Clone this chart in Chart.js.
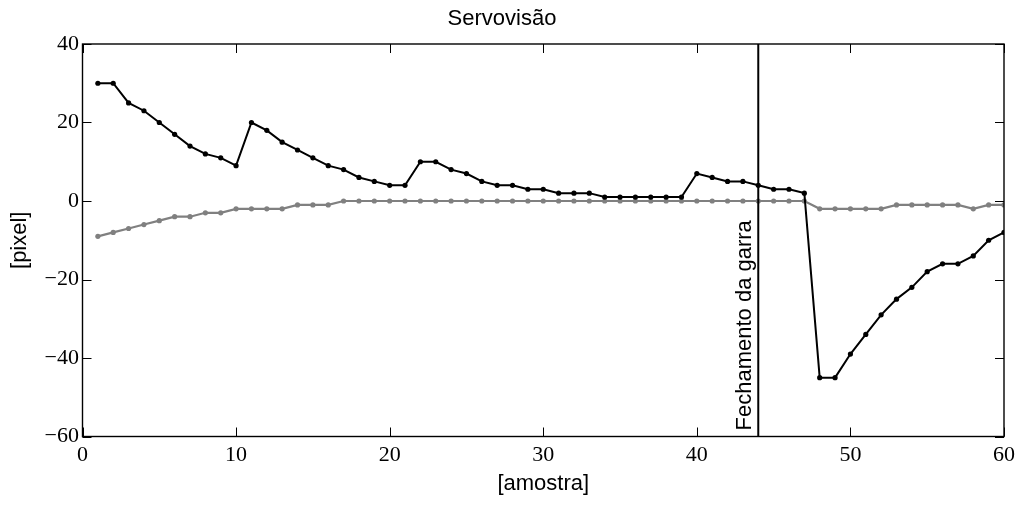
<!DOCTYPE html>
<html>
<head>
<meta charset="utf-8">
<title>Servovisão</title>
<script src="https://cdn.jsdelivr.net/npm/chart.js@4/dist/chart.umd.min.js"></script>
<style>
  html, body { margin: 0; padding: 0; background: #ffffff; }
  #wrap { width: 1017px; height: 508px; }
</style>
</head>
<body>
<div id="wrap"><canvas id="chart" width="1017" height="508"></canvas></div>
<script>
// Sample indices
const amostras = [1, 2, 3, 4, 5, 6, 7, 8, 9, 10,
  11, 12, 13, 14, 15, 16, 17, 18, 19, 20,
  21, 22, 23, 24, 25, 26, 27, 28, 29, 30,
  31, 32, 33, 34, 35, 36, 37, 38, 39, 40,
  41, 42, 43, 44, 45, 46, 47, 48, 49, 50,
  51, 52, 53, 54, 55, 56, 57, 58, 59, 60];

// Image error, first coordinate (black)
const erroA = [30, 30, 25, 23, 20, 17, 14, 12, 11, 9,
  20, 18, 15, 13, 11, 9, 8, 6, 5, 4,
  4, 10, 10, 8, 7, 5, 4, 4, 3, 3,
  2, 2, 2, 1, 1, 1, 1, 1, 1, 7,
  6, 5, 5, 4, 3, 3, 2, -45, -45, -39,
  -34, -29, -25, -22, -18, -16, -16, -14, -10, -8];

// Image error, second coordinate (grey)
const erroB = [-9, -8, -7, -6, -5, -4, -4, -3, -3, -2,
  -2, -2, -2, -1, -1, -1, 0, 0, 0, 0,
  0, 0, 0, 0, 0, 0, 0, 0, 0, 0,
  0, 0, 0, 0, 0, 0, 0, 0, 0, 0,
  0, 0, 0, 0, 0, 0, 0, -2, -2, -2,
  -2, -2, -1, -1, -1, -1, -1, -2, -1, -1];

// Gripper closing instant
const fechamentoX = [44, 44];
const fechamentoY = [-60, 40];
const fechamentoTexto = 'Fechamento da garra';

const xTicks = [0, 10, 20, 30, 40, 50, 60];
const yTicks = [-60, -40, -20, 0, 20, 40];

const SANS = '"Liberation Sans", Arial, Helvetica, sans-serif';
const SERIF = '"Liberation Serif", "Times New Roman", serif';

const toPoints = (xs, ys) => xs.map((x, i) => ({ x: x, y: ys[i] }));

// Axes box with inward tick marks on all four sides, plus the rotated note
const boxPlugin = {
  id: 'boxPlugin',
  afterDatasetsDraw(chart) {
    const { ctx, chartArea: a, scales } = chart;
    const xs = scales.x, ys = scales.y;
    const len = 9;
    ctx.save();
    ctx.strokeStyle = '#000';
    ctx.lineWidth = 1;
    ctx.beginPath();
    xTicks.forEach(v => {
      const px = Math.round(xs.getPixelForValue(v)) + 0.5;
      ctx.moveTo(px, a.bottom); ctx.lineTo(px, a.bottom - len);
      ctx.moveTo(px, a.top); ctx.lineTo(px, a.top + len);
    });
    yTicks.forEach(v => {
      const py = Math.round(ys.getPixelForValue(v)) + 0.5;
      ctx.moveTo(a.left, py); ctx.lineTo(a.left + len, py);
      ctx.moveTo(a.right, py); ctx.lineTo(a.right - len, py);
    });
    ctx.stroke();
    ctx.lineWidth = 1.4;
    ctx.strokeRect(a.left, a.top, a.right - a.left, a.bottom - a.top);

    // note beside the vertical marker, reading bottom to top
    const lx = xs.getPixelForValue(fechamentoX[0]);
    ctx.translate(lx - 7, a.bottom - 6);
    ctx.rotate(-Math.PI / 2);
    ctx.fillStyle = '#000';
    ctx.font = '22px ' + SANS;
    ctx.textAlign = 'left';
    ctx.textBaseline = 'alphabetic';
    ctx.fillText(fechamentoTexto, 0, 0);
    ctx.restore();
  }
};

new Chart(document.getElementById('chart'), {
  type: 'line',
  data: {
    datasets: [
      {
        label: 'marcador',
        data: toPoints(fechamentoX, fechamentoY),
        borderColor: '#000',
        borderWidth: 2,
        pointRadius: 0,
        fill: false
      },
      {
        label: 'eixo 1',
        data: toPoints(amostras, erroA),
        borderColor: '#000',
        backgroundColor: '#000',
        borderWidth: 2,
        pointRadius: 2.6,
        pointBorderWidth: 0,
        pointBackgroundColor: '#000',
        tension: 0,
        fill: false
      },
      {
        label: 'eixo 2',
        data: toPoints(amostras, erroB),
        borderColor: '#808080',
        backgroundColor: '#808080',
        borderWidth: 2.2,
        pointRadius: 2.6,
        pointBorderWidth: 0,
        pointBackgroundColor: '#808080',
        tension: 0,
        fill: false
      }
    ]
  },
  options: {
    responsive: false,
    animation: false,
    layout: { padding: { left: 0, right: 13, top: 0, bottom: 0 } },
    plugins: {
      legend: { display: false },
      tooltip: { enabled: false },
      title: {
        display: true,
        text: 'Servovisão',
        color: '#000',
        font: { family: SANS, size: 22, weight: 'normal' },
        padding: { top: 5.5, bottom: 12.1 }
      }
    },
    scales: {
      x: {
        type: 'linear',
        min: 0,
        max: 60,
        afterBuildTicks(scale) { scale.ticks = xTicks.map(v => ({ value: v })); },
        afterFit(scale) {
          scale.height = 71.5;
          scale.paddingLeft = 0;
          scale.paddingRight = 0;
        },
        grid: { display: false, drawTicks: false },
        border: { display: false },
        ticks: {
          color: '#000',
          padding: 6,
          maxRotation: 0,
          font: { family: SERIF, size: 22 }
        },
        title: {
          display: true,
          text: '[amostra]',
          color: '#000',
          font: { family: SANS, size: 22 },
          padding: { top: 0, bottom: 11 }
        }
      },
      y: {
        type: 'linear',
        min: -60,
        max: 40,
        afterBuildTicks(scale) { scale.ticks = yTicks.map(v => ({ value: v })); },
        afterFit(scale) {
          scale.width = 82.5;
          scale.paddingTop = 0;
          scale.paddingBottom = 0;
        },
        grid: { display: false, drawTicks: false },
        border: { display: false },
        ticks: {
          color: '#000',
          padding: 3.5,
          font: { family: SERIF, size: 22 },
          callback: v => (v < 0 ? '\u2212' + Math.abs(v) : String(v))
        },
        title: {
          display: true,
          text: '[pixel]',
          color: '#000',
          font: { family: SANS, size: 22 },
          padding: { top: 7, bottom: 0 }
        }
      }
    }
  },
  plugins: [boxPlugin]
});
</script>
</body>
</html>
